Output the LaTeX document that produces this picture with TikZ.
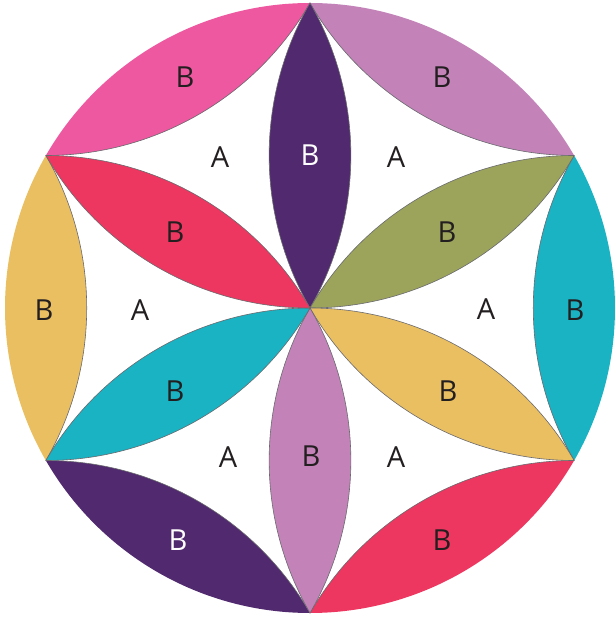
\documentclass[tikz,border=0pt]{standalone}
\usepackage{fontspec}
\setmainfont{Open Sans}
\definecolor{pink}{RGB}{238,88,160}
\definecolor{lilac}{RGB}{195,131,185}
\definecolor{plum}{RGB}{81,41,111}
\definecolor{rose}{RGB}{238,55,96}
\definecolor{olive}{RGB}{156,164,91}
\definecolor{gold}{RGB}{234,191,97}
\definecolor{teal}{RGB}{25,179,195}
\definecolor{edgegray}{RGB}{105,105,110}
\definecolor{ink}{RGB}{35,31,32}

\begin{document}
\begin{tikzpicture}[
  x=1pt,y=1pt,
  every node/.style={font=\fontsize{29}{30}\selectfont,inner sep=0pt},
  edge/.style={draw=edgegray,line width=0.6pt},
]
\def\R{305}
\useasboundingbox (-310,-309) rectangle (305,308);
% outer lenses between neighbouring points of the circle
\foreach \t/\c/\tc/\p in {90/pink/ink/{-125,231},30/lilac/ink/{132,231},-30/teal/ink/{265,-2},
    -90/rose/ink/{132,-232},-150/plum/white/{-132,-232},150/gold/ink/{-266,-2}}{
  \fill[\c] (\t:\R) arc[start angle=\t, end angle=\t+60, radius=\R]
    arc[start angle=\t+180, end angle=\t+240, radius=\R] -- cycle;
  \draw[edge] (\t+60:\R) arc[start angle=\t+180, end angle=\t+240, radius=\R];
  \node[text=\tc] (outer\t) at (\p) {B};
}
% petals from the centre
\foreach \t/\c/\tc/\p in {90/plum/white/{0,153},30/olive/ink/{137,76},-30/gold/ink/{138,-83},
    -90/lilac/ink/{1,-148},-150/teal/ink/{-135,-83},150/rose/ink/{-135,76}}{
  \filldraw[fill=\c,edge] (0,0) arc[start angle=\t+240, end angle=\t+300, radius=\R]
    arc[start angle=\t+60, end angle=\t+120, radius=\R] -- cycle;
  \node[text=\tc] (petal\t) at (\p) {B};
}
% white gaps
\foreach \a/\p in {0/{176,-1},60/{86,151},120/{-90,151},180/{-170,-2},240/{-82,-149},300/{86,-149}}
  \node[text=ink] (gap\a) at (\p) {A};
\end{tikzpicture}
\end{document}
